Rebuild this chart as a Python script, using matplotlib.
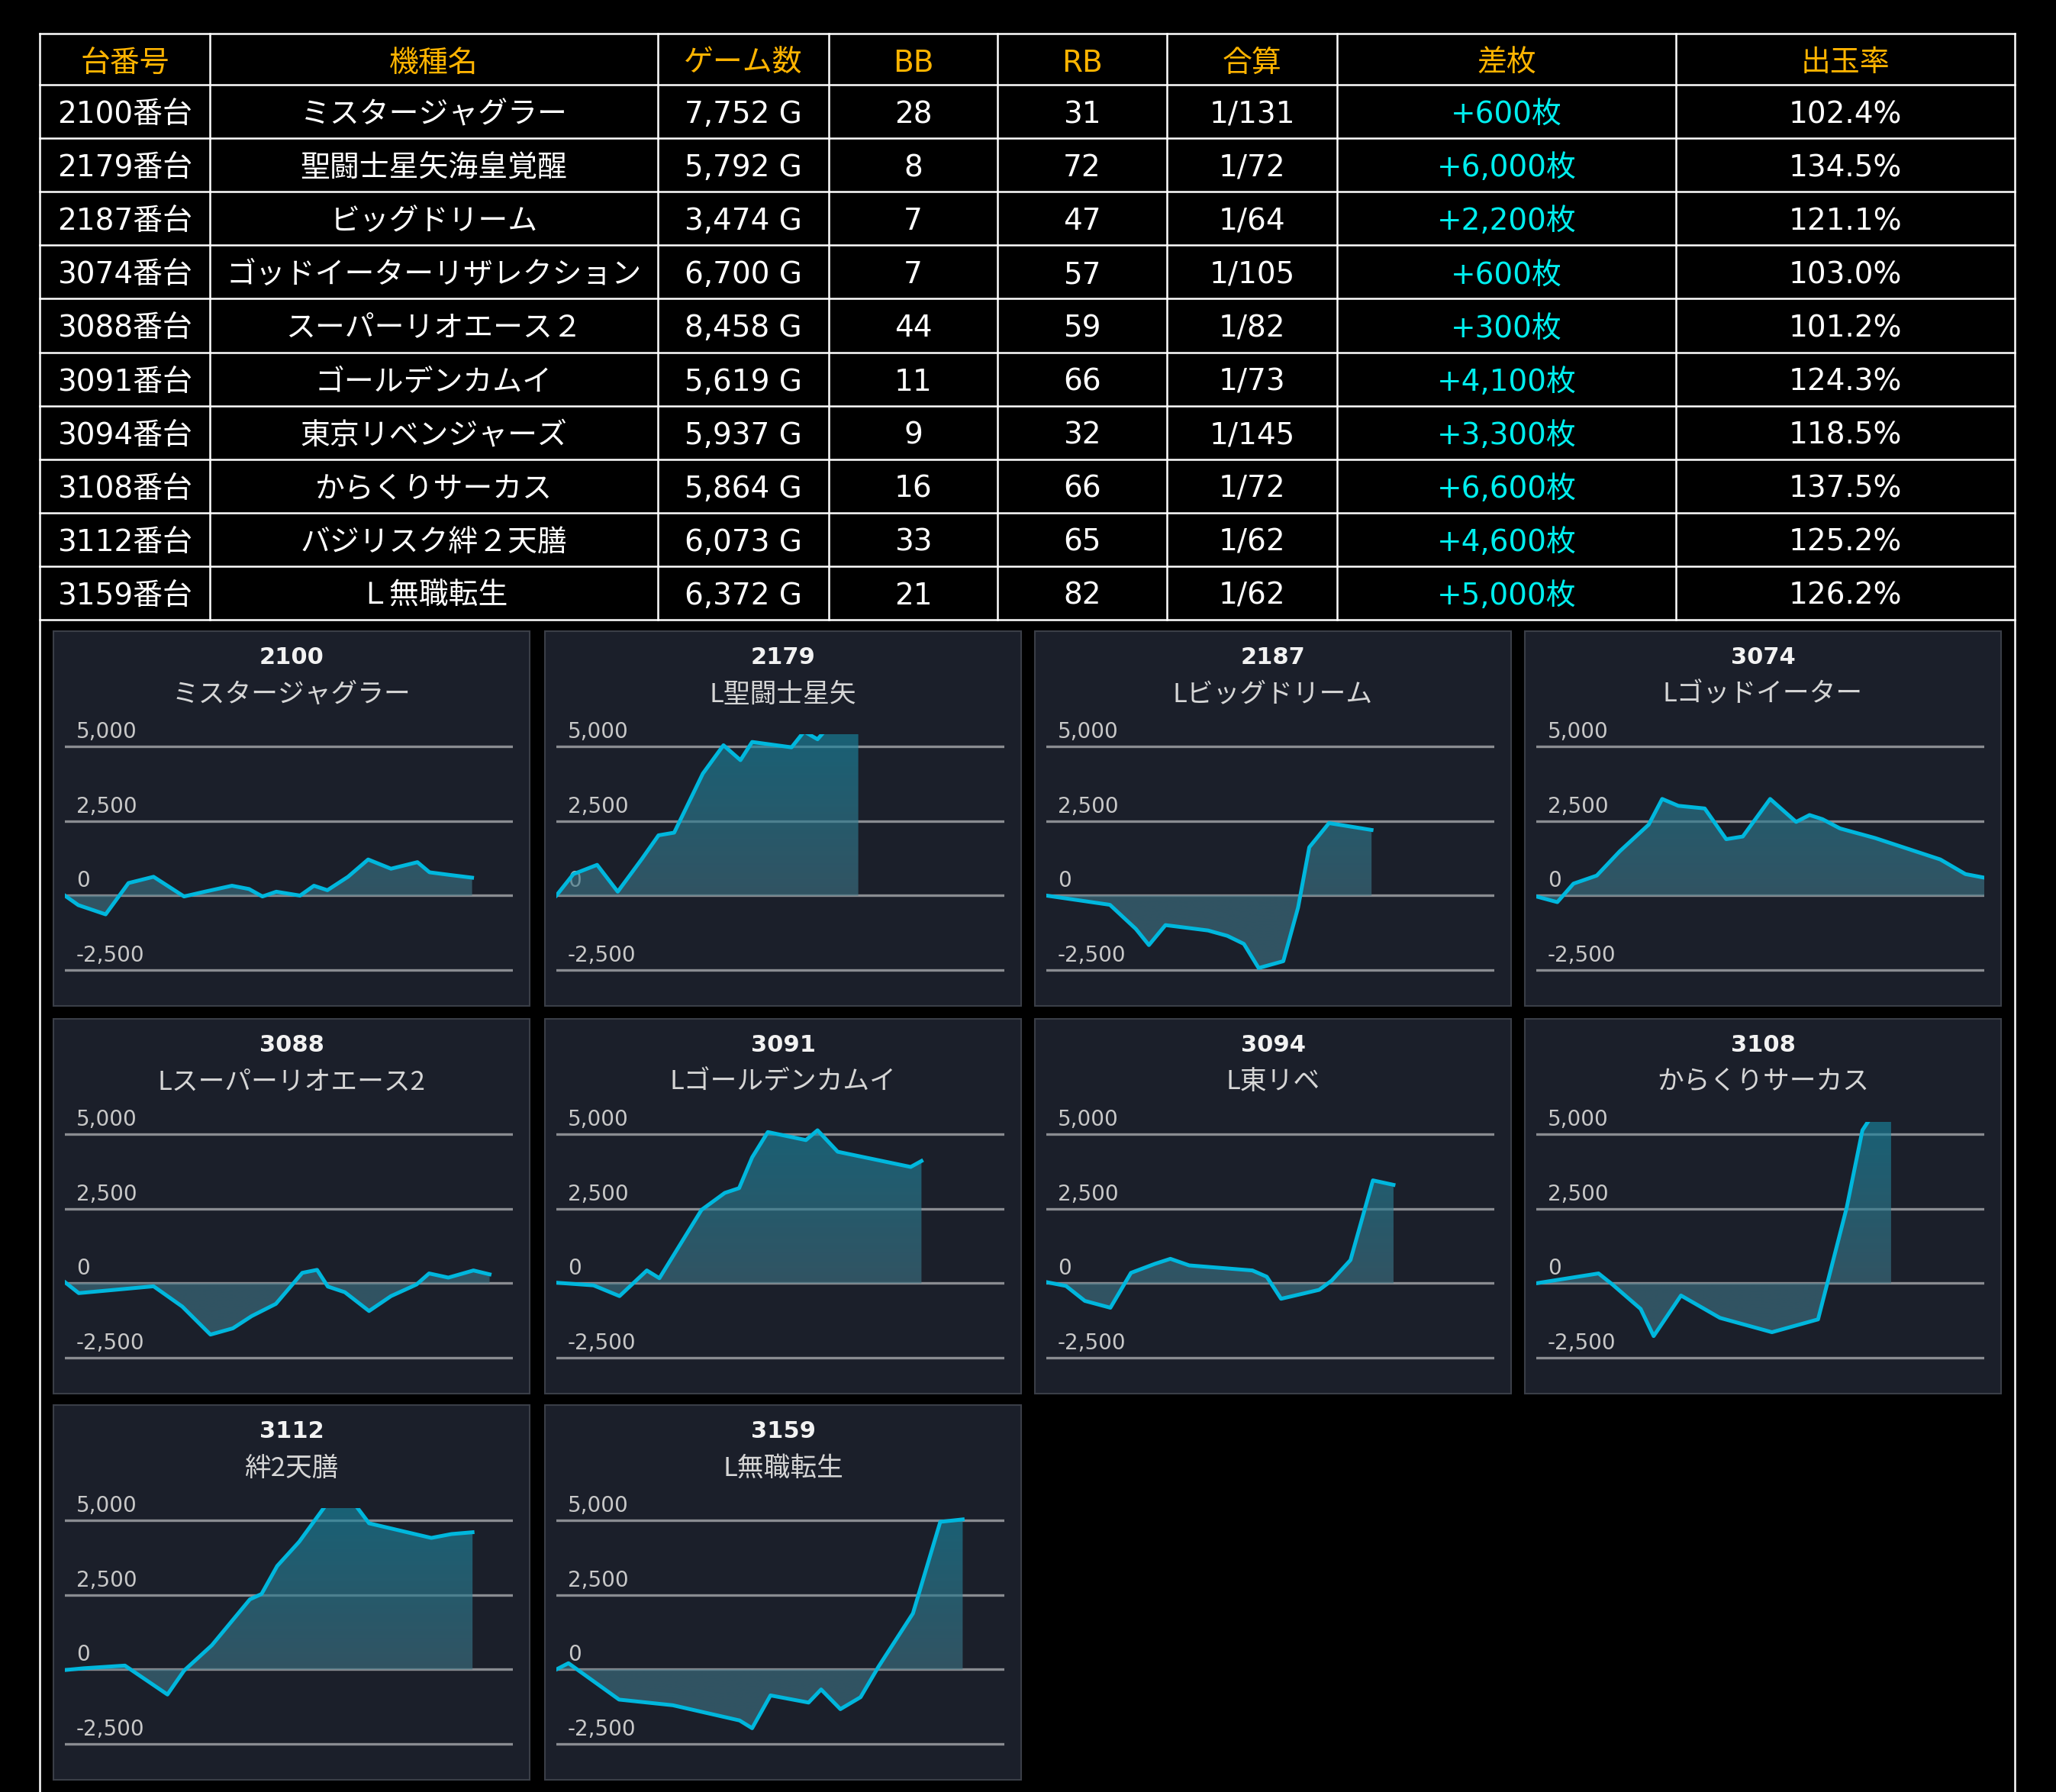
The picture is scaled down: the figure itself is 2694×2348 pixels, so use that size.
import numpy as np
import matplotlib.pyplot as plt
from matplotlib.patches import Rectangle, Polygon

plt.rcParams['font.family'] = ['DejaVu Sans', 'Noto Sans CJK JP']

W, H = 2694, 2348

# ---- table data ----
headers = ["台番号", "機種名", "ゲーム数", "BB", "RB", "合算", "差枚", "出玉率"]
machine_ids = ["2100", "2179", "2187", "3074", "3088", "3091", "3094", "3108", "3112", "3159"]
machine_names = ["ミスタージャグラー", "聖闘士星矢海皇覚醒", "ビッグドリーム", "ゴッドイーターリザレクション",
                 "スーパーリオエース２", "ゴールデンカムイ", "東京リベンジャーズ", "からくりサーカス",
                 "バジリスク絆２天膳", "Ｌ無職転生"]
games = ["7,752 G", "5,792 G", "3,474 G", "6,700 G", "8,458 G", "5,619 G", "5,937 G", "5,864 G", "6,073 G", "6,372 G"]
bb = [28, 8, 7, 7, 44, 11, 9, 16, 33, 21]
rb = [31, 72, 47, 57, 59, 66, 32, 66, 65, 82]
combined = ["1/131", "1/72", "1/64", "1/105", "1/82", "1/73", "1/145", "1/72", "1/62", "1/62"]
diff = ["+600枚", "+6,000枚", "+2,200枚", "+600枚", "+300枚", "+4,100枚", "+3,300枚", "+6,600枚", "+4,600枚", "+5,000枚"]
payout = ["102.4%", "134.5%", "121.1%", "103.0%", "101.2%", "124.3%", "118.5%", "137.5%", "125.2%", "126.2%"]

# ---- chart data (x = progress through the day, 0-100; y = 差枚) ----
panel_names = ["ミスタージャグラー", "L聖闘士星矢", "Lビッグドリーム", "Lゴッドイーター", "Lスーパーリオエース2",
               "Lゴールデンカムイ", "L東リベ", "からくりサーカス", "絆2天膳", "L無職転生"]

x_2100 = [0, 3.0, 9.1, 14.2, 19.8, 26.6, 31.2, 37.3, 41.1, 44.1, 47.2, 52.5, 55.6, 58.6, 63.2, 67.7, 72.8, 78.7, 81.4, 86.0, 90.9]
y_2100 = [0, -320, -630, 420, 630, -30, 130, 330, 220, -30, 130, 0, 330, 180, 630, 1210, 900, 1120, 780, 690, 600]

x_2179 = [0, 3.8, 9.1, 13.7, 19.0, 22.8, 26.3, 32.7, 37.3, 41.1, 43.7, 52.5, 55.3, 58.3, 60.4, 67.4]
y_2179 = [0, 720, 1030, 130, 1210, 2020, 2110, 4090, 5040, 4540, 5150, 4970, 5500, 5240, 5600, 6000]

x_2187 = [0, 14.2, 20.0, 22.9, 26.6, 36.1, 40.4, 44.1, 47.4, 52.9, 56.2, 58.7, 63.1, 72.6]
y_2187 = [0, -310, -1120, -1660, -990, -1170, -1350, -1620, -2430, -2200, -400, 1620, 2430, 2200]

x_3074 = [0, 4.7, 8.3, 13.5, 18.6, 25.1, 28.1, 31.7, 37.6, 42.4, 46.1, 52.2, 58.0, 61.0, 63.9, 67.8, 75.6, 90.2, 95.8, 100]
y_3074 = [-30, -220, 400, 670, 1480, 2380, 3240, 3010, 2920, 1890, 1980, 3240, 2470, 2700, 2560, 2250, 1930, 1210, 720, 600]

x_3088 = [0, 3.1, 19.8, 26.2, 32.5, 37.5, 41.7, 47.1, 53.0, 56.3, 58.7, 62.5, 67.9, 72.8, 78.5, 81.3, 85.6, 91.2, 94.8]
y_3088 = [40, -330, -100, -780, -1720, -1510, -1100, -690, 350, 450, -110, -300, -930, -430, -40, 330, 190, 430, 300]

x_3091 = [0, 8.3, 14.1, 20.2, 23.0, 26.0, 32.4, 37.6, 40.8, 43.7, 47.2, 55.7, 58.3, 62.8, 79.1, 81.5]
y_3091 = [20, -70, -430, 430, 170, 900, 2460, 3030, 3190, 4220, 5070, 4800, 5130, 4410, 3900, 4100]

x_3094 = [0, 4.4, 8.6, 14.3, 18.9, 24.2, 27.7, 31.9, 46.0, 49.2, 52.4, 60.9, 63.7, 67.9, 72.9, 77.5]
y_3094 = [40, -90, -590, -820, 350, 650, 820, 600, 430, 220, -520, -220, 90, 780, 3450, 3300]

x_3108 = [0, 13.9, 17.0, 23.3, 26.2, 32.3, 41.0, 52.6, 62.9, 69.3, 72.8, 79.2]
y_3108 = [0, 330, -40, -860, -1770, -410, -1160, -1640, -1210, 2540, 5130, 6600]

x_3112 = [0, 4.2, 13.4, 22.9, 26.6, 32.8, 41.3, 43.9, 47.4, 52.3, 58.7, 64.4, 67.9, 81.8, 86.3, 91.0]
y_3112 = [-20, 40, 130, -840, -40, 810, 2350, 2530, 3470, 4280, 5600, 5600, 4900, 4410, 4540, 4600]

x_3159 = [0, 2.7, 14.0, 26.0, 40.9, 43.7, 47.8, 56.3, 59.1, 63.4, 67.9, 71.9, 79.6, 85.7, 90.7]
y_3159 = [0, 210, -1010, -1200, -1710, -1970, -870, -1110, -670, -1330, -930, 90, 1880, 4950, 5030]

series_x = [x_2100, x_2179, x_2187, x_3074, x_3088, x_3091, x_3094, x_3108, x_3112, x_3159]
series_y = [y_2100, y_2179, y_2187, y_3074, y_3088, y_3091, y_3094, y_3108, y_3112, y_3159]
grid_levels = [5000, 2500, 0, -2500]

# ---- layout (pixels) ----
col_edges = [52, 275, 862, 1086, 1307, 1529, 1752, 2196, 2640]
table_top = 44
header_h = 67
row_h = 70.1
panel_lefts = [70, 714, 1356, 1998]
panel_tops = [827, 1335, 1841]
PANEL_W, PANEL_H = 624, 491
YMIN, YMAX = -3200, 5410

HEAD_COLOR = '#ffb400'
DIFF_COLOR = '#00eeee'
LINE_COLOR = '#00b7dd'

fig = plt.figure(figsize=(W / 100, H / 100), dpi=100, facecolor='black')
bg = fig.add_axes([0, 0, 1, 1])
bg.set_xlim(0, W)
bg.set_ylim(H, 0)
bg.axis('off')

# table grid
n_rows = len(machine_ids)
row_edges = [table_top, table_top + header_h] + [table_top + header_h + row_h * (i + 1) for i in range(n_rows)]
table_bottom = row_edges[-1]
for y in row_edges:
    bg.plot([col_edges[0], col_edges[-1]], [y, y], color='white', lw=1.8)
for i, x in enumerate(col_edges):
    y_end = H if i in (0, len(col_edges) - 1) else table_bottom
    bg.plot([x, x], [table_top, y_end], color='white', lw=1.8)

centers = [(col_edges[i] + col_edges[i + 1]) / 2 for i in range(len(col_edges) - 1)]
for c, h in zip(centers, headers):
    bg.text(c, (row_edges[0] + row_edges[1]) / 2 + 5, h, color=HEAD_COLOR, fontsize=28, ha='center', va='center')

for r in range(n_rows):
    cy = (row_edges[r + 1] + row_edges[r + 2]) / 2 + 4
    cells = [f"{machine_ids[r]}番台", machine_names[r], games[r], str(bb[r]), str(rb[r]),
             combined[r], diff[r], payout[r]]
    for j, (c, t) in enumerate(zip(centers, cells)):
        bg.text(c, cy, t, color=DIFF_COLOR if j == 6 else 'white', fontsize=28, ha='center', va='center')

# gradient colours for fill
top_rgb = np.array([25, 133, 159]) / 255
bot_rgb = np.array([62, 113, 130]) / 255
yy = np.linspace(YMIN, YMAX, 256)
t = np.clip(yy / YMAX, 0, 1)
rgb = bot_rgb + (top_rgb - bot_rgb) * t[:, None]
grad = np.concatenate([rgb, np.full((256, 1), 0.65)], axis=1)[:, None, :]

for k in range(len(machine_ids)):
    px = panel_lefts[k % 4]
    py = panel_tops[k // 4]
    bg.add_patch(Rectangle((px, py), PANEL_W, PANEL_H, facecolor='#1b1f2a', edgecolor='#3a3e47', lw=1.5))
    bg.text(px + PANEL_W / 2, py + 34, machine_ids[k], color='#f2f2f2', fontsize=22, fontweight='bold',
            ha='center', va='center')
    bg.text(px + PANEL_W / 2, py + 83, panel_names[k], color='#d6d6d6', fontsize=25, ha='center', va='center',
            family=['Noto Sans CJK JP', 'DejaVu Sans'])

    ax_top = py + 135
    ax_bottom = py + 471.5
    ax = fig.add_axes([(px + 15) / W, 1 - ax_bottom / H, 587 / W, (ax_bottom - ax_top) / H])
    ax.axis('off')

    for v in grid_levels:
        ax.axhline(v, color='#8a8c91', lw=2.4, zorder=1)
        ax.annotate(f"{v:,}", xy=(0, v), xycoords=('axes fraction', 'data'), xytext=(15, 5),
                    textcoords='offset pixels', color='#c8c8c8', fontsize=20, ha='left', va='bottom',
                    annotation_clip=False, zorder=1.5)

    xs, ys = series_x[k], series_y[k]
    verts = [(xs[0], 0)] + list(zip(xs, ys)) + [(xs[-1], 0)]
    poly = Polygon(verts, closed=True, facecolor='none', edgecolor='none', transform=ax.transData)
    ax.add_patch(poly)
    im = ax.imshow(grad, extent=[0, 100, YMIN, YMAX], origin='lower', aspect='auto', zorder=2)
    im.set_clip_path(poly)
    ax.plot(xs, ys, color=LINE_COLOR, lw=3.6, zorder=3, solid_joinstyle='round')
    ax.set_xlim(0, 100)
    ax.set_ylim(YMIN, YMAX)

fig.savefig('out.png', dpi=100, facecolor='black')
